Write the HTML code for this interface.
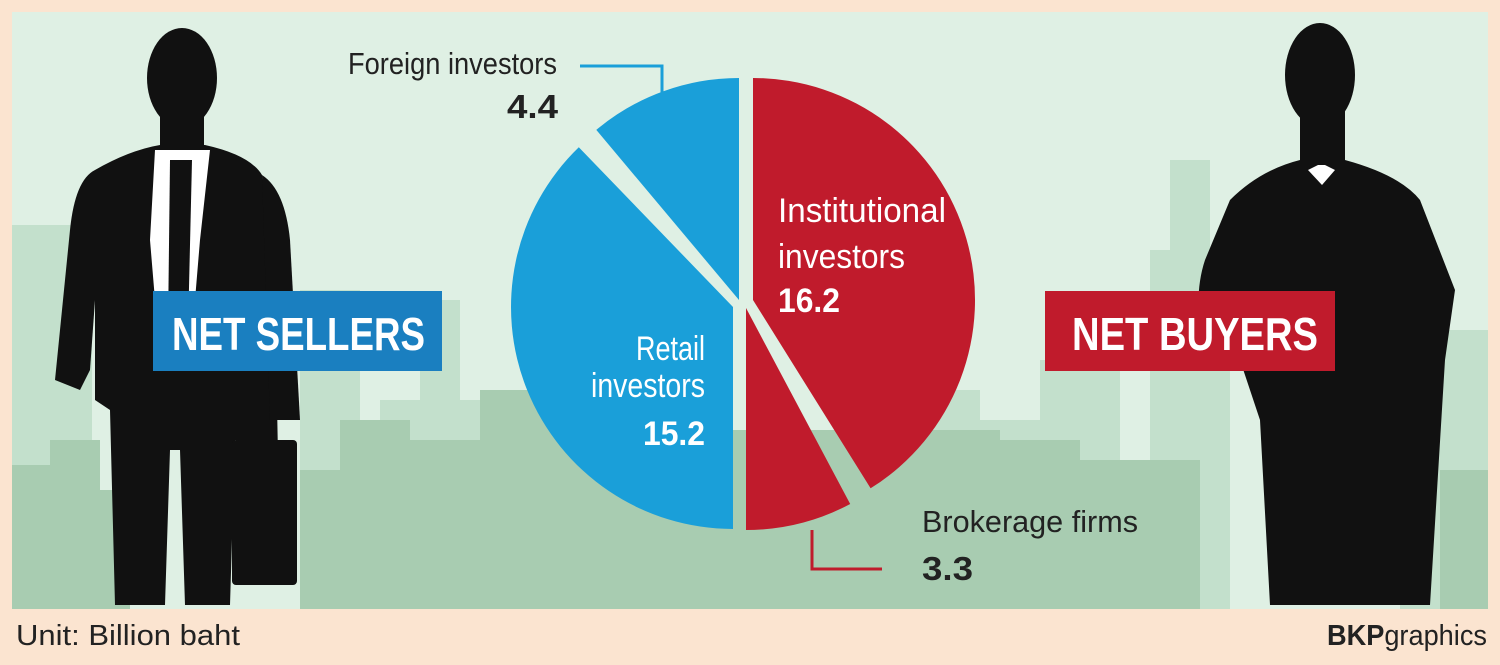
<!DOCTYPE html>
<html><head><meta charset="utf-8"><style>
html,body{margin:0;padding:0;background:#fbe4d0;}
body{width:1500px;height:665px;overflow:hidden;position:relative;font-family:"Liberation Sans",sans-serif;}
</style></head><body>
<svg width="1500" height="665" viewBox="0 0 1500 665" xmlns="http://www.w3.org/2000/svg" style="position:absolute;left:0;top:0" font-family="Liberation Sans, sans-serif">
<rect x="0" y="0" width="1500" height="665" fill="#fbe4d0"/>
<rect x="12" y="12" width="1476" height="597" fill="#dff0e4"/>
<g fill="#c3e0cc">
<rect x="12" y="225" width="80" height="384"/>
<rect x="300" y="290" width="60" height="319"/>
<rect x="420" y="300" width="40" height="309"/>
<rect x="380" y="400" width="150" height="209"/>
<rect x="490" y="410" width="80" height="199"/>
<rect x="850" y="390" width="130" height="219"/>
<rect x="940" y="420" width="160" height="189"/>
<rect x="1040" y="360" width="80" height="249"/>
<rect x="1170" y="160" width="40" height="449"/>
<rect x="1150" y="250" width="80" height="359"/>
<rect x="1400" y="330" width="88" height="279"/>
</g>
<g fill="#a8ccb1">
<polygon points="12,465 50,465 50,440 100,440 100,490 130,490 130,609 12,609"/>
<rect x="300" y="470" width="80" height="139"/>
<rect x="340" y="420" width="70" height="189"/>
<rect x="400" y="440" width="110" height="169"/>
<rect x="480" y="390" width="90" height="219"/>
<rect x="560" y="430" width="440" height="179"/>
<rect x="980" y="440" width="100" height="169"/>
<rect x="1060" y="460" width="140" height="149"/>
<rect x="1440" y="470" width="48" height="139"/>
</g>
<!-- pie -->
<path d="M753,300 L753,78 A222,222 0 0 1 870.6,488.3 Z" fill="#c01b2c"/>
<path d="M746,308 L850.2,504 A222,222 0 0 1 746,530 Z" fill="#c01b2c"/>
<path d="M733,307 L733,529 A222,222 0 0 1 578.8,147.3 Z" fill="#1a9fd9"/>
<path d="M739,300 L596.3,129.9 A222,222 0 0 1 739,78 Z" fill="#1a9fd9"/>
<polyline points="580,66 662,66 662,95" fill="none" stroke="#1a9fd9" stroke-width="3"/>
<polyline points="812,530 812,569 882,569" fill="none" stroke="#c01b2c" stroke-width="3"/>
<!-- left man -->
<g fill="#111">
<ellipse cx="182" cy="78" rx="35" ry="50"/>
<rect x="160" y="110" width="44" height="45"/>
<path d="M95,170 Q130,150 160,145 L205,145 Q250,155 262,175 L275,300 L280,560 L245,560 L245,440 L235,440 L230,605 L185,605 L180,450 L170,450 L165,605 L115,605 L110,410 L95,400 Z"/>
<path d="M95,170 Q75,180 70,230 L55,380 L80,390 L90,370 L95,300 Z"/>
<path d="M262,175 Q285,190 290,240 L300,420 L270,420 Z"/>
<rect x="232" y="440" width="65" height="145" rx="4"/>
</g>
<polygon points="155,150 210,150 200,240 190,360 160,360 150,240" fill="#fff"/>
<polygon points="170,160 192,160 188,330 176,345 168,330" fill="#111"/>
<!-- right man -->
<g fill="#111">
<ellipse cx="1320" cy="75" rx="35" ry="52"/>
<rect x="1300" y="110" width="45" height="55"/>
<path d="M1230,200 Q1260,170 1300,160 L1345,160 Q1400,175 1420,200 L1455,290 L1445,360 L1430,605 L1270,605 L1260,420 L1240,360 L1200,330 Q1195,290 1205,260 Z"/>
</g>
<polygon points="1308,170 1322,185 1335,170 1325,165 1318,165" fill="#fff"/>
<!-- boxes -->
<rect x="153" y="291" width="289" height="80" fill="#1a7fc0"/>
<text x="172" y="350" font-weight="bold" font-size="46" fill="#fff" textLength="253" lengthAdjust="spacingAndGlyphs">NET SELLERS</text>
<rect x="1045" y="291" width="290" height="80" fill="#c01b2c"/>
<text x="1072" y="350" font-weight="bold" font-size="46" fill="#fff" textLength="246" lengthAdjust="spacingAndGlyphs">NET BUYERS</text>
<!-- labels -->
<text x="348" y="74" font-size="31" fill="#222" textLength="209" lengthAdjust="spacingAndGlyphs">Foreign investors</text>
<text x="507" y="118" font-size="33" font-weight="bold" fill="#222" textLength="51" lengthAdjust="spacingAndGlyphs">4.4</text>
<text x="778" y="222" font-size="34" fill="#fff" textLength="168" lengthAdjust="spacingAndGlyphs">Institutional</text>
<text x="778" y="268" font-size="34" fill="#fff" textLength="127" lengthAdjust="spacingAndGlyphs">investors</text>
<text x="778" y="312" font-size="34" font-weight="bold" fill="#fff" textLength="62" lengthAdjust="spacingAndGlyphs">16.2</text>
<text x="636" y="360" font-size="34" fill="#fff" textLength="69" lengthAdjust="spacingAndGlyphs">Retail</text>
<text x="591" y="397" font-size="34" fill="#fff" textLength="114" lengthAdjust="spacingAndGlyphs">investors</text>
<text x="643" y="445" font-size="34" font-weight="bold" fill="#fff" textLength="62" lengthAdjust="spacingAndGlyphs">15.2</text>
<text x="922" y="532" font-size="31" fill="#222" textLength="216" lengthAdjust="spacingAndGlyphs">Brokerage firms</text>
<text x="922" y="580" font-size="33" font-weight="bold" fill="#222" textLength="51" lengthAdjust="spacingAndGlyphs">3.3</text>
<text x="16" y="645" font-size="29" fill="#222" textLength="224" lengthAdjust="spacingAndGlyphs">Unit: Billion baht</text>
<text x="1327" y="645" font-size="29" fill="#222" textLength="160" lengthAdjust="spacingAndGlyphs"><tspan font-weight="bold">BKP</tspan>graphics</text>
</svg>
</body></html>
